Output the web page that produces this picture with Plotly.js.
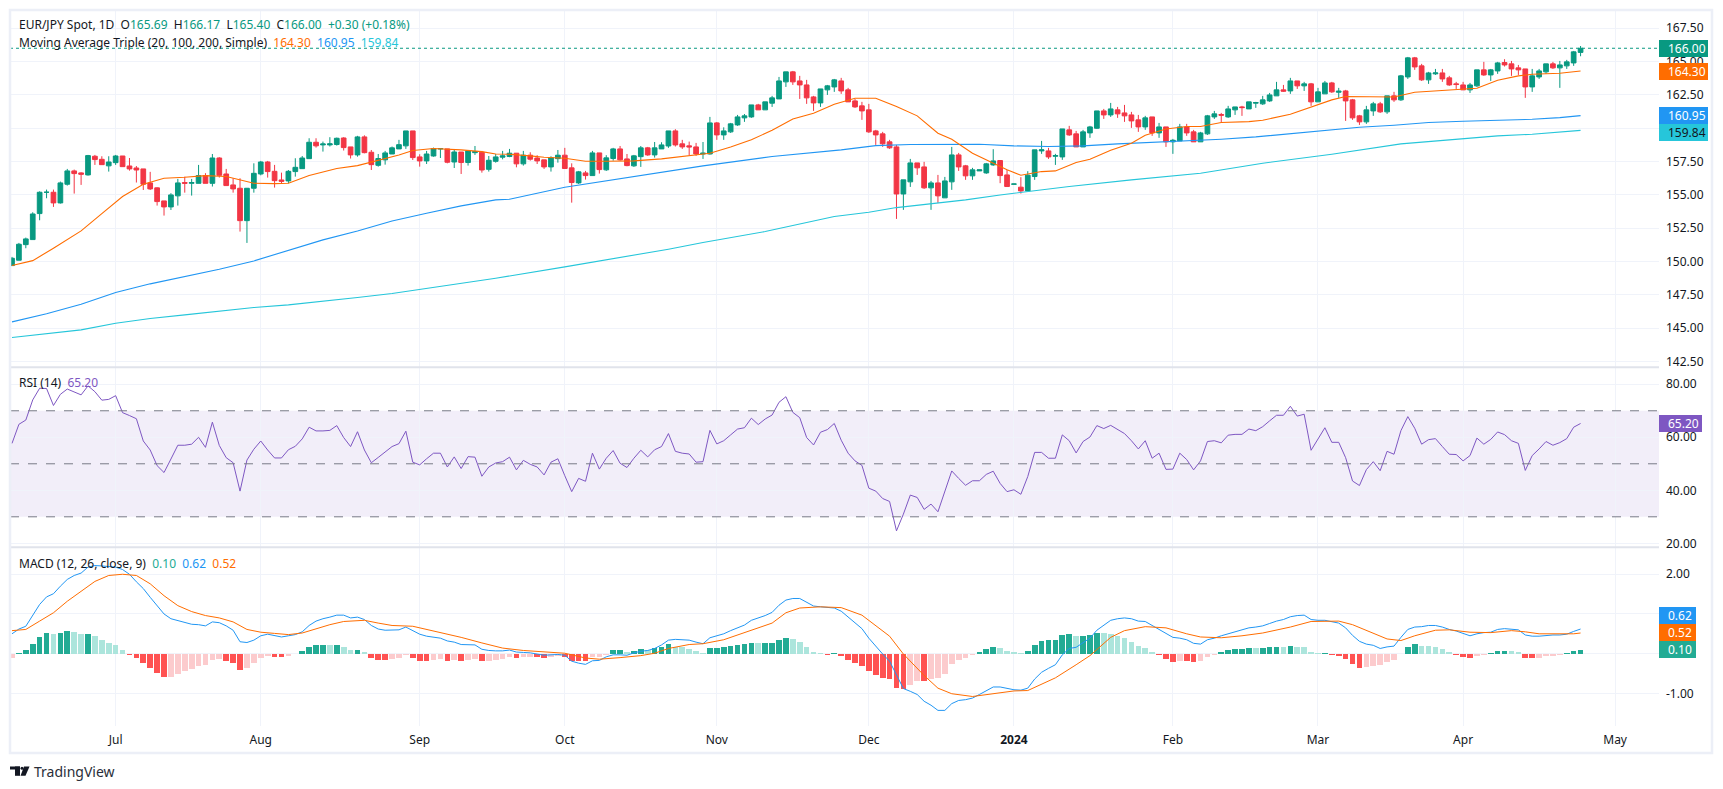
<!DOCTYPE html>
<html><head><meta charset="utf-8">
<script src="https://cdn.plot.ly/plotly-3.0.1.min.js"></script>
<style>html,body{margin:0;padding:0;background:#fff}#c{width:1723px;height:789px}</style>
</head><body><div id="c"></div>
<script>
const opens=[149.7,150.1,151.27,151.65,153.6,155.2,155.2,154.4,155.8,156.8,
156.65,156.5,157.9,157.67,157.18,157.42,157.92,157.17,157.02,156.95,
155.9,155.53,154.55,154.1,154.93,155.93,155.87,155.87,156.45,155.87,
157.77,156.57,155.75,155.5,153.07,155.5,156.57,157.47,156.77,156.12,
156.05,156.75,156.97,157.72,158.95,158.75,158.75,158.78,159.27,158.6,
158.0,159.35,158.2,157.22,157.63,158.07,158.45,158.68,159.8,157.85,
157.55,157.92,158.45,158.45,157.47,158.22,157.43,158.17,158.2,156.92,
157.52,157.83,157.88,158.13,157.33,157.98,157.77,157.63,157.1,157.72,
157.98,157.03,155.9,156.65,156.45,158.15,156.88,157.73,158.45,157.7,
157.18,157.87,158.53,158.0,158.45,158.67,159.8,158.83,158.68,158.6,
158.07,158.07,160.4,159.5,159.73,160.25,160.78,160.85,161.75,161.38,
161.88,162.2,163.48,164.23,163.55,163.25,162.35,161.9,162.88,163.1,
163.55,162.88,162.05,161.68,161.38,159.8,159.58,158.98,158.6,155.07,
155.98,157.4,157.1,155.53,155.9,154.78,155.98,158.0,157.18,156.43,
156.8,156.65,157.25,157.58,156.5,155.8,155.58,155.3,156.38,158.3,
158.3,157.9,157.85,159.88,159.58,158.6,159.65,160.0,161.3,161.0,
161.38,161.15,161.0,160.63,160.1,160.85,159.65,160.1,158.98,159.05,
160.1,159.73,158.98,159.58,160.85,161.03,160.85,161.38,161.6,161.45,
161.88,161.83,162.05,162.43,162.88,162.8,163.55,163.18,163.33,161.98,
162.58,163.4,162.7,162.8,162.13,160.93,160.48,161.3,161.83,161.23,
162.43,162.13,163.85,165.28,164.68,163.63,164.08,164.15,163.78,163.33,
163.25,162.88,163.18,164.38,164.0,164.3,164.93,164.83,164.53,164.45,
163.1,163.85,164.23,164.83,164.53,164.68,164.9,165.69];
const highs=[150.35,151.4,151.8,153.7,155.27,155.4,155.4,156.0,156.95,156.9,
156.7,158.0,158.0,157.9,157.9,158.0,157.92,157.77,157.17,156.95,
156.73,155.57,154.55,155.13,156.2,156.37,156.2,157.25,156.63,158.07,
157.83,156.95,156.25,156.25,155.52,157.37,157.55,157.55,157.25,156.67,
156.87,157.75,157.92,159.25,159.25,159.0,159.33,159.3,159.33,158.6,
159.43,159.47,158.37,158.07,158.3,158.63,159.13,159.8,159.8,158.05,
158.3,158.55,158.5,158.45,158.43,158.22,158.3,158.67,158.3,157.92,
158.07,158.3,158.45,158.13,158.3,158.2,157.98,157.63,157.9,158.37,
158.53,157.37,156.8,156.8,158.3,158.15,157.98,158.53,158.67,158.07,
158.0,158.67,158.6,158.97,158.95,159.8,159.93,159.13,159.0,158.9,
158.97,160.85,160.47,160.07,160.4,161.0,161.07,161.75,161.83,161.98,
162.43,163.85,164.23,164.3,163.93,163.63,162.43,162.95,163.25,163.7,
163.78,163.03,162.2,161.98,161.83,159.88,159.73,159.13,158.75,156.13,
157.7,157.4,157.48,156.05,156.5,156.35,158.6,158.15,157.25,157.03,
156.88,157.4,158.43,157.6,156.88,155.83,156.33,156.78,158.38,159.05,
158.53,158.08,159.95,160.18,159.8,159.88,160.18,161.3,161.45,161.9,
161.6,161.75,161.23,161.0,160.93,160.85,160.4,160.1,159.2,160.33,
160.33,159.88,159.73,161.0,161.3,161.15,161.68,161.6,161.68,161.98,
161.98,162.43,162.65,163.48,163.25,163.78,163.55,163.48,163.4,163.03,
163.55,163.48,163.03,162.88,162.2,161.0,161.68,161.98,161.98,162.43,
162.73,164.0,165.35,165.35,164.83,164.23,164.45,164.45,163.93,163.48,
163.48,163.4,164.38,164.98,164.45,164.98,165.18,165.05,164.75,164.45,
164.45,164.45,164.83,164.98,165.05,165.13,165.8,166.17];
const lows=[149.7,150.1,151.0,151.65,153.1,154.75,154.1,154.35,155.7,155.1,
155.75,156.45,157.25,157.27,156.75,157.25,157.12,156.82,155.93,155.37,
155.37,154.2,153.45,153.87,154.2,155.17,154.95,155.87,155.87,155.63,
156.3,155.7,155.17,152.25,151.4,155.17,156.47,156.3,155.55,155.87,
155.87,156.37,156.97,157.72,158.55,158.25,158.63,158.7,158.33,157.73,
157.87,158.12,156.87,157.12,157.27,158.07,158.45,158.45,157.62,157.12,
157.32,157.87,157.77,157.37,157.02,156.57,157.2,158.0,156.67,156.75,
157.42,157.67,157.83,157.07,157.2,157.57,157.32,156.95,156.75,157.42,
156.98,154.42,155.82,156.15,156.45,156.6,156.8,157.57,157.57,157.15,
157.1,157.1,157.93,157.8,158.45,158.53,158.63,158.45,157.98,157.93,
157.7,158.03,159.13,159.13,159.65,160.18,160.48,160.78,161.38,161.38,
161.6,162.2,163.1,163.25,162.2,161.83,161.3,161.6,162.5,162.73,
162.58,161.98,161.53,160.63,159.65,158.75,158.6,158.45,153.2,153.88,
155.6,156.5,155.45,153.88,154.4,154.78,155.38,156.8,156.13,156.13,
156.8,156.58,157.18,155.88,155.63,155.8,155.1,155.3,156.13,158.08,
157.7,157.25,157.63,159.43,158.6,158.6,159.28,159.95,160.7,160.85,
160.78,160.48,160.03,159.73,159.88,159.43,159.28,158.6,158.08,159.05,
159.43,158.98,158.98,159.5,160.7,160.4,160.78,161.0,160.93,161.45,
161.53,161.75,161.98,162.43,162.73,162.58,162.95,162.8,161.68,161.98,
162.58,162.65,162.28,160.55,160.63,160.25,160.33,160.93,161.15,161.08,
161.98,162.05,163.7,164.38,163.55,163.33,164.0,163.48,163.18,162.95,
162.88,162.65,163.1,163.93,163.55,164.08,164.63,163.93,164.0,162.28,
162.73,163.7,164.08,164.45,163.03,164.45,164.68,165.4];
const closes=[150.25,151.3,151.7,153.57,155.2,155.2,154.4,155.9,156.8,156.6,
156.55,157.95,157.65,157.27,157.47,157.92,157.12,156.95,156.87,155.8,
155.45,154.5,154.1,155.0,155.9,155.87,155.93,156.45,155.87,157.77,
156.47,155.7,155.45,153.07,155.5,156.62,157.47,156.75,156.07,156.02,
156.77,157.07,157.77,158.95,158.68,158.82,158.83,159.25,158.55,158.0,
159.35,158.17,157.27,157.73,158.15,158.53,158.77,159.8,157.8,157.55,
158.07,158.47,158.47,157.45,158.22,157.43,158.3,158.25,156.87,157.6,
157.85,157.93,158.13,157.33,157.98,157.68,157.55,157.1,157.8,157.98,
156.98,155.93,156.73,156.45,158.15,156.9,157.78,158.45,157.63,157.2,
157.93,158.53,158.0,158.53,158.75,159.8,158.75,158.6,158.6,158.07,
158.13,160.4,159.5,159.8,160.33,160.85,160.93,161.75,161.38,161.98,
162.28,163.55,164.23,163.48,163.25,162.28,161.9,162.95,163.18,163.63,
162.8,161.98,161.6,161.3,159.73,159.5,158.83,158.53,155.07,156.13,
157.4,157.03,155.53,155.9,154.93,156.05,158.0,157.1,156.43,156.88,
156.88,157.33,157.55,156.45,155.63,155.82,155.3,156.48,158.38,158.38,
157.85,157.95,159.95,159.5,158.6,159.73,160.1,161.3,161.0,161.45,
161.08,160.93,160.55,160.1,160.78,159.65,160.1,158.98,159.1,160.1,
159.65,158.98,159.65,160.93,161.08,160.98,161.45,161.6,161.55,161.98,
161.93,162.13,162.5,162.88,162.78,163.55,163.18,163.33,161.98,162.73,
163.4,162.73,162.78,162.05,160.78,160.48,161.38,161.83,161.23,162.43,
162.13,163.93,165.28,164.6,163.63,164.15,164.15,163.7,163.25,163.28,
162.88,163.25,164.38,164.0,164.38,164.9,164.75,164.45,164.38,163.1,
163.93,164.3,164.83,164.53,164.75,164.98,165.73,166.0];

const smaFastIdx=[0,3,6,10,13,16,19,22,25,28,31,33,35,38,40,43,47,50,53,56,58,61,65,68,70,72,75,77,80,83,86,90,94,98,101,104,107,110,113,116,119,122,125,128,131,134,136,139,142,144,146,149,151,154,156,159,162,164,167,170,172,175,179,181,185,188,191,193,197,200,203,207,210,212,215,218,220,224,227];
const smaFast=[149.7,150.07,151.0,152.3,153.6,154.88,155.8,156.25,156.33,156.45,156.38,156.13,155.88,155.85,155.88,156.45,156.98,157.2,157.6,158.0,158.33,158.48,158.38,158.25,158.07,158.05,157.93,157.83,157.75,157.53,157.53,157.55,157.7,157.93,158.13,158.6,159.13,159.85,160.7,161.13,161.8,162.25,162.25,161.63,160.93,159.63,159.18,158.13,157.38,156.88,156.48,156.75,156.8,157.43,157.68,158.35,158.88,159.48,159.95,160.13,160.13,160.43,160.5,160.6,161.05,161.58,162.13,162.38,162.35,162.35,162.7,162.83,162.9,163.0,163.6,163.93,164.05,164.13,164.3];
const smaMidIdx=[0,5,10,15,20,25,30,35,40,45,50,55,60,65,70,72,80,90,100,110,120,125,130,140,145,150,155,160,165,170,175,180,185,190,195,200,205,210,215,220,224,227];
const smaMid=[145.48,146.08,146.8,147.68,148.33,148.88,149.43,150.05,150.83,151.63,152.3,153.05,153.63,154.18,154.63,154.68,155.58,156.38,157.18,157.88,158.38,158.7,158.78,158.8,158.68,158.63,158.68,158.83,158.93,159.05,159.18,159.35,159.58,159.8,160.08,160.23,160.43,160.53,160.6,160.67,160.8,160.95];
const smaSlowIdx=[0,10,15,20,25,30,35,40,45,50,55,60,65,70,80,88,95,100,109,119,124,128,133,138,143,153,162,172,181,191,201,210,215,220,224,227];
const smaSlow=[144.3,144.88,145.38,145.73,146.0,146.3,146.55,146.75,147.0,147.3,147.6,147.98,148.33,148.75,149.6,150.3,150.93,151.43,152.25,153.38,153.7,154.05,154.33,154.63,155.0,155.63,156.13,156.63,157.38,158.05,158.83,159.25,159.43,159.55,159.72,159.84];

const rsi=[57.7,64.9,66.5,74.1,78.5,78.4,72,76.2,78.2,77.1,76,79.4,77.2,74,74.3,75.7,69.3,68.2,67,58.6,
55.2,49.3,46.7,51.8,57,57,57.4,60,56.2,65.7,56.9,52.3,50.4,39.7,51.4,55.5,58.6,55.2,52.2,52.2,
55.3,56.6,59.4,63.8,62.4,62.4,62.6,64.4,59.9,56.5,62.1,55.2,50.4,52.4,54.5,56.5,57.6,62.3,50.6,49.6,
51.9,54,54,48.8,52.6,48.2,52.7,52.5,45.3,48.8,50.3,50.8,52.5,47.7,51.3,49.8,48.8,45.8,50.6,51.9,
45.5,39.5,44.5,43.4,54,48,52.1,55,50.2,48.6,52.1,55.1,52.6,55.3,56.5,61.4,54.7,54,53.7,50.6,
50.8,62.6,57.5,58.7,60.9,63.1,63.6,67.2,64.8,66.9,68.4,73.2,75.3,69.4,67.4,59.9,57.1,61.9,62.9,65.2,
58.9,54,51.1,49.4,40.8,39.7,36.9,35.8,24.7,31,38.2,37.3,32.8,34.8,31.9,39.5,47.3,44.5,41.9,43.6,
43.6,46,47.2,42.6,39.5,40.2,38.5,45.2,54.3,54.3,52.1,52.1,60.9,58.7,54.1,58.4,60.1,64.4,63.3,64.5,
62.8,61.4,58.7,55.6,58.7,52.1,54,47.9,48,54,51.6,47.7,51.1,58.4,58.7,57.9,60.8,61.1,61.1,63.1,
62.5,64,66.2,68.3,68.3,71.7,68,68.7,55.1,59.6,63.6,58.1,58.1,52.3,43.5,41.8,47.8,50.8,47.4,54.7,
53.6,62.5,67.8,63.4,57.4,59.1,59.5,56.5,53.6,53.5,51.1,53.1,59.7,57.4,59.2,62,61,58.7,57.7,47.5,
53.1,55.6,58.4,57,58,59.5,63.8,65.2];

const macdHist=[-.11,.02,.09,.24,.42,.52,.50,.52,.57,.55,.50,.505,.45,.34,.27,.22,.09,-.04,-.11,-.24,
-.36,-.49,-.59,-.585,-.51,-.44,-.39,-.31,-.29,-.16,-.13,-.18,-.24,-.41,-.36,-.24,-.11,-.06,-.08,-.085,
-.06,-.01,.07,.17,.22,.225,.22,.225,.17,.09,.095,.04,-.11,-.16,-.165,-.13,-.11,-.03,-.11,-.18,
-.185,-.16,-.13,-.18,-.16,-.18,-.16,-.13,-.18,-.175,-.16,-.13,-.08,-.11,-.08,-.075,-.09,-.11,-.08,-.06,
-.08,-.18,-.185,-.19,-.09,-.08,-.03,.09,.095,.04,.07,.12,.09,.14,.17,.24,.17,.165,.12,.07,
.02,.14,.145,.17,.19,.22,.24,.27,.265,.27,.275,.34,.39,.37,.29,.17,.04,.02,-.03,.01,
-.06,-.16,-.24,-.31,-.44,-.54,-.61,-.64,-.87,-.89,-.79,-.69,-.695,-.64,-.61,-.51,-.26,-.16,-.11,-.03,
.04,.12,.17,.14,.07,.04,.02,.07,.22,.32,.34,.345,.47,.50,.45,.455,.47,.52,.515,.50,
.45,.39,.29,.19,.14,.04,-.03,-.13,-.21,-.18,-.185,-.21,-.18,-.08,-.03,.04,.09,.12,.125,.14,
.135,.14,.17,.175,.17,.19,.17,.165,.04,.02,.025,-.03,-.06,-.13,-.26,-.36,-.34,-.31,-.29,-.21,
-.16,-.01,.17,.24,.19,.185,.17,.12,.04,-.03,-.08,-.11,-.06,-.03,.02,.07,.075,.07,.04,-.11,
-.115,-.11,-.06,-.055,-.03,.02,.07,.10];
const macdLine=[.50,.62,.69,.98,1.24,1.43,1.51,1.70,1.87,1.97,2.03,2.18,2.22,2.21,2.19,2.18,2.12,2.0,1.81,1.64,
1.42,1.21,1.0,.88,.83,.78,.74,.73,.70,.80,.78,.70,.59,.30,.28,.34,.45,.49,.45,.42,
.45,.48,.55,.71,.82,.88,.92,.97,.97,.90,.92,.86,.71,.62,.59,.59,.60,.67,.59,.49,
.44,.42,.39,.32,.29,.23,.23,.22,.11,.08,.07,.07,.09,.04,.03,.02,-.01,-.04,-.03,-.02,
-.04,-.19,-.24,-.27,-.18,-.17,-.08,-.03,-.03,-.04,.02,.06,.08,.13,.22,.34,.36,.35,.34,.29,
.25,.40,.45,.50,.58,.66,.72,.84,.90,.96,1.04,1.22,1.35,1.39,1.39,1.30,1.20,1.18,1.17,1.15,
1.07,.92,.77,.63,.39,.18,-.01,-.19,-.53,-.88,-.95,-1.03,-1.20,-1.30,-1.43,-1.43,-1.26,-1.18,-1.16,-1.12,
-1.03,-.94,-.84,-.84,-.88,-.91,-.92,-.87,-.64,-.47,-.37,-.28,-.03,.13,.16,.27,.39,.59,.71,.84,
.88,.90,.88,.82,.81,.71,.63,.51,.41,.39,.35,.26,.24,.35,.39,.45,.50,.56,.60,.65,
.67,.70,.76,.82,.86,.93,.96,.97,.86,.84,.84,.81,.77,.65,.46,.31,.24,.21,.13,.17,
.19,.41,.61,.67,.68,.71,.71,.67,.61,.57,.50,.45,.50,.53,.54,.61,.63,.61,.60,.47,
.44,.44,.46,.47,.47,.49,.56,.62];
const signalIdx=[0,2,4,6,8,10,12,14,16,18,20,22,24,26,28,30,32,34,36,38,40,42,44,46,48,51,53,55,58,60,62,65,68,71,74,77,80,83,85,88,91,93,95,98,100,103,106,110,112,114,117,120,123,127,129,132,134,136,139,142,145,147,151,154,156,159,161,164,167,170,172,175,178,181,185,188,192,194,197,199,201,203,206,208,211,214,217,219,221,224,226,227];
const signalLine=[.58,.61,.82,1.03,1.32,1.57,1.82,1.97,2.0,1.97,1.76,1.46,1.21,1.06,.96,.90,.80,.61,.54,.51,.48,.52,.63,.73,.81,.84,.77,.71,.69,.61,.54,.41,.27,.14,.08,.04,.01,-.11,-.14,-.10,-.05,.01,.13,.23,.25,.35,.53,.77,1.03,1.15,1.18,1.16,.97,.44,-.01,-.55,-.87,-1.01,-1.08,-1.01,-.94,-.93,-.61,-.28,-.05,.41,.58,.68,.65,.50,.42,.40,.45,.52,.67,.81,.82,.73,.52,.37,.33,.45,.59,.60,.54,.53,.58,.55,.50,.49,.50,.52];

const monthIdx=[15,36,59,80,102,124,145,168,189,210,232];
const monthLabels=['Jul','Aug','Sep','Oct','Nov','Dec','<b>2024</b>','Feb','Mar','Apr','May'];
const priceTicks=[167.5,165,162.5,160,157.5,155,152.5,150,147.5,145,142.5];
const rsiTicks=[80,60,40,20];
const macdTicks=[2,1,0,-1];

const W=1723,H=789;
const fx=p=>p/W, fy=p=>1-p/H;
const FONT='"Noto Sans", sans-serif';
const FS=12;
const TXT='#131722', GRID='#f0f3fa', FRAME='#eceff7';
const idx=closes.map((_,i)=>i);
const histColor=macdHist.map((v,i)=>{
  const up=i===0?true:v>=macdHist[i-1];
  if(v>=0) return up?'#22ab94':'#ace5dc';
  return up?'#fccbcd':'#ff5252';
});
const traces=[
 {type:'candlestick',x:idx,open:opens,high:highs,low:lows,close:closes,xaxis:'x',yaxis:'y',
  increasing:{line:{color:'#089981',width:1},fillcolor:'#089981'},
  decreasing:{line:{color:'#f23645',width:1},fillcolor:'#f23645'},whiskerwidth:0,showlegend:false,hoverinfo:'skip'},
 {type:'scatter',mode:'lines',x:smaSlowIdx,y:smaSlow,yaxis:'y',line:{color:'#26c6da',width:1.1},hoverinfo:'skip'},
 {type:'scatter',mode:'lines',x:smaMidIdx,y:smaMid,yaxis:'y',line:{color:'#2196f3',width:1.1},hoverinfo:'skip'},
 {type:'scatter',mode:'lines',x:smaFastIdx,y:smaFast,yaxis:'y',line:{color:'#ff6d00',width:1.1},hoverinfo:'skip'},
 {type:'scatter',mode:'lines',x:idx,y:rsi,yaxis:'y2',line:{color:'#7e57c2',width:1},hoverinfo:'skip'},
 {type:'bar',x:idx,y:macdHist,yaxis:'y3',width:0.82,marker:{color:histColor,line:{width:0}},hoverinfo:'skip'},
 {type:'scatter',mode:'lines',x:idx,y:macdLine,yaxis:'y3',line:{color:'#2196f3',width:1},hoverinfo:'skip'},
 {type:'scatter',mode:'lines',x:signalIdx,y:signalLine,yaxis:'y3',line:{color:'#ff6d00',width:1},hoverinfo:'skip'}
];
const yBase=(top,bot,range,ticks,fmt)=>({domain:[fy(bot),fy(top)],range:range,side:'right',anchor:'x',fixedrange:true,
  tickmode:'array',tickvals:ticks,ticktext:ticks.map(fmt),showgrid:true,gridcolor:GRID,gridwidth:1,zeroline:false,showline:false,
  ticks:'',ticklabelstandoff:6,tickfont:{family:FONT,size:FS,color:TXT},ticklabelposition:'outside',automargin:false});
const rect=(x0,y0,x1,y1,fill,extra)=>Object.assign({type:'rect',xref:'paper',yref:'paper',x0:fx(x0),x1:fx(x1),y0:fy(y1),y1:fy(y0),fillcolor:fill,line:{width:0},layer:'above'},extra||{});
const hline=(yref,v,color,dash,w)=>({type:'line',xref:'x domain',yref:yref,x0:0,x1:1,y0:v,y1:v,line:{color:color,dash:dash,width:w},layer:'above'});
const note=(x,y,text,extra)=>Object.assign({xref:'paper',yref:'paper',x:fx(x),y:fy(y),text:text,showarrow:false,xanchor:'left',yanchor:'middle',borderpad:0,font:{family:FONT,size:FS,color:TXT}},extra||{});
const badge=(y0,y1,x1,fill,text,color)=>[rect(1659,y0,x1,y1,fill),note(1667,(y0+y1)/2,text,{font:{family:FONT,size:FS,color:color||'#fff'}})];
const c=(col,t)=>`<span style="color:${col}">${t}</span>`;
const G='#089981';
const badges=[
 badge(40,57,1708,'#089981','166.00'),
 badge(63,80,1708,'#ff6d00','164.30'),
 badge(107,124,1708,'#2196f3','160.95'),
 badge(124,141,1708,'#26c6da','159.84','#131722'),
 badge(415,432,1702,'#7e57c2','65.20'),
 badge(607,624,1696,'#2196f3','0.62'),
 badge(624,641,1696,'#ff6d00','0.52'),
 badge(641,658,1696,'#22ab94','0.10')
];
const layout={
 width:W,height:H,margin:{l:0,r:0,t:0,b:0},paper_bgcolor:'#fff',plot_bgcolor:'#fff',showlegend:false,
 bargap:0,boxgap:0.32,boxgroupgap:0,barmode:'overlay',
 xaxis:{domain:[fx(10),fx(1659)],range:[-0.29,238.35],anchor:'y3',fixedrange:true,rangeslider:{visible:false},
  tickmode:'array',tickvals:monthIdx,ticktext:monthLabels,tickfont:{family:FONT,size:FS,color:TXT},
  showgrid:true,gridcolor:GRID,gridwidth:1,zeroline:false,showline:false,ticks:'outside',ticklen:3,tickcolor:'rgba(0,0,0,0)'},
 yaxis:yBase(10,367.3,[142.07,168.87],priceTicks,v=>v.toFixed(2)),
 yaxis2:yBase(367.3,547.3,[18.5,86.4],rsiTicks,v=>v.toFixed(2)),
 yaxis3:yBase(547.3,725.7,[-1.816,2.68],macdTicks,v=>v.toFixed(2)),
 shapes:[
  {type:'rect',xref:'x domain',yref:'y2',x0:0,x1:1,y0:30,y1:70,fillcolor:'rgba(126,87,194,0.1)',line:{width:0},layer:'below'},
  hline('y2',70,'#787b86','dash',1),hline('y2',50,'#787b86','dash',1),hline('y2',30,'#787b86','dash',1),
  hline('y',166,'#089981','dot',1),
  rect(10,366.3,1659,368.3,'#e0e3eb'),
  rect(10,546.3,1659,548.3,'#e0e3eb'),
  ...badges.map(b=>b[0]),
  {type:'rect',xref:'paper',yref:'paper',x0:fx(10),x1:fx(1712),y0:fy(753),y1:fy(10),fillcolor:'rgba(0,0,0,0)',line:{color:FRAME,width:2.5},layer:'above'},
  rect(10,766.5,20,769.5,'#131722'),
  rect(15,766.5,20,775.8,'#131722'),
  {type:'circle',xref:'paper',yref:'paper',x0:fx(20.5),x1:fx(23.5),y0:fy(769.8),y1:fy(766.8),fillcolor:'#131722',line:{width:0},layer:'above'},
  {type:'path',xref:'paper',yref:'paper',path:`M${fx(24)},${fy(766.5)} L${fx(29.5)},${fy(766.5)} L${fx(25.5)},${fy(775.8)} L${fx(20.5)},${fy(775.8)} Z`,fillcolor:'#131722',line:{width:0},layer:'above'}
 ],
 annotations:[
  note(18,25,`EUR/JPY Spot, 1D&nbsp;&nbsp;O${c(G,'165.69')}&nbsp;&nbsp;H${c(G,'166.17')}&nbsp;&nbsp;L${c(G,'165.40')}&nbsp;&nbsp;C${c(G,'166.00')}&nbsp;&nbsp;${c(G,'+0.30 (+0.18%)')}`),
  note(18,42,`Moving Average Triple (20, 100, 200, Simple)&nbsp;&nbsp;${c('#ff6d00','164.30')}&nbsp;&nbsp;${c('#2196f3','160.95')}&nbsp;&nbsp;${c('#26c6da','159.84')}`),
  note(18,382.7,`RSI (14)&nbsp;&nbsp;${c('#7e57c2','65.20')}`),
  note(18,563,`MACD (12, 26, close, 9)&nbsp;&nbsp;${c('#22ab94','0.10')}&nbsp;&nbsp;${c('#2196f3','0.62')}&nbsp;&nbsp;${c('#ff6d00','0.52')}`),
  note(33,771.5,'TradingView',{font:{family:FONT,size:14,color:'#2a2e39'}}),
  ...badges.map(b=>b[1])
 ]
};
Plotly.newPlot('c',traces,layout,{displayModeBar:false,staticPlot:true,responsive:false});
</script></body></html>
